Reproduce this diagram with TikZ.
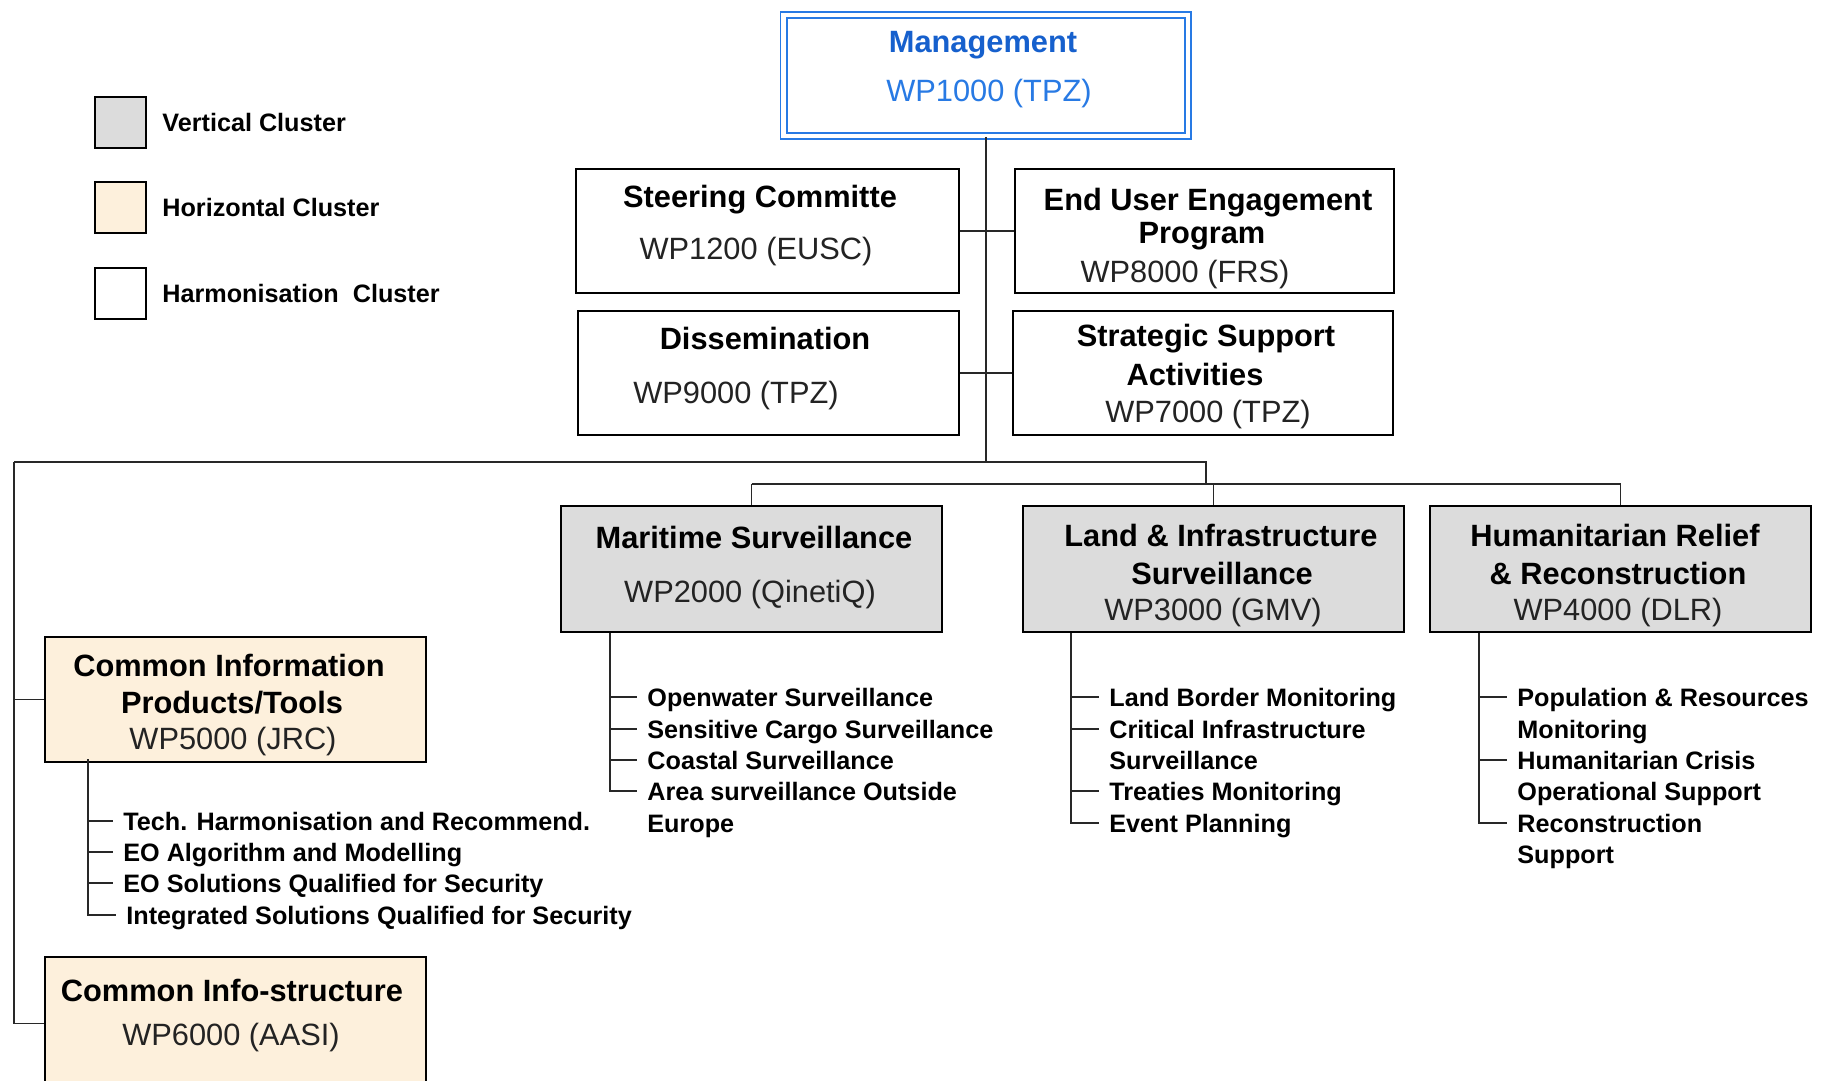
\documentclass[tikz,border=0pt]{standalone}
\usepackage{fontspec}
\setmainfont{Liberation Sans}
\usetikzlibrary{fit}
\definecolor{vgray}{RGB}{220,220,220}
\definecolor{hcream}{RGB}{253,240,220}
\definecolor{mblue}{RGB}{40,122,228}
\definecolor{mtext}{RGB}{22,96,205}
\definecolor{wptext}{RGB}{35,35,35}
\definecolor{conn}{RGB}{40,40,40}
\begin{document}
\begin{tikzpicture}[x=0.5pt,y=-0.5pt,
  box/.style={draw=black, line width=1pt, inner sep=0pt},
  vbox/.style={box, fill=vgray},
  hbox/.style={box, fill=hcream},
  wbox/.style={box, fill=white},
  ttl/.style={font=\bfseries\fontsize{15.4}{18}\selectfont, text height=11pt, text depth=0pt, inner sep=0pt},
  wp/.style={font=\fontsize{15.4}{18}\selectfont, text=wptext, text height=11pt, text depth=0pt, inner sep=0pt},
  item/.style={font=\bfseries\fontsize{12.6}{15}\selectfont, anchor=west, text height=9pt, text depth=0pt, inner ysep=0pt, inner xsep=5pt},
  lnk/.style={draw=conn, line width=0.8pt}]
\useasboundingbox (0,0) rectangle (1825,1081);
\clip (0,0) rectangle (1825,1081);
\fill[white] (0,0) rectangle (1825,1081);

% legend
\node[vbox, fit={(95,97)(146,148)}] (lg1) {};
\node[hbox, fit={(95,182)(146,233)}] (lg2) {};
\node[wbox, fit={(95,268)(146,319)}] (lg3) {};
\node[item] (lg1t) at ([xshift=2.5pt]lg1.east) {Vertical Cluster};
\node[item] (lg2t) at ([xshift=2.5pt]lg2.east) {Horizontal Cluster};
\node[item] (lg3t) at ([xshift=2.5pt]lg3.east) {Harmonisation~ Cluster};

% management
\node[draw=mblue, double=white, double distance=2.2pt, line width=0.9pt, inner sep=0pt, fit={(783.5,15)(1188,136)}] (mgmt) {};
\node[ttl, text=mtext] (mgmtT) at (983,42) {Management};
\node[wp, text=mblue] (mgmtW) at (989,91) {WP1000 (TPZ)};

% harmonisation boxes
\node[wbox, fit={(576,169)(959,293)}] (steer) {};
\node[ttl] (steerT) at (760,196) {Steering Committe};
\node[wp] (steerW) at (756,248) {WP1200 (EUSC)};

\node[wbox, fit={(1015,169)(1394,293)}] (eue) {};
\node[ttl] (eueT1) at (1208,199) {End User Engagement};
\node[ttl] (eueT2) at (1202,232) {Program};
\node[wp] (eueW) at (1185,271) {WP8000 (FRS)};

\node[wbox, fit={(578,311)(959,435)}] (diss) {};
\node[ttl] (dissT) at (765,338) {Dissemination};
\node[wp] (dissW) at (736,392) {WP9000 (TPZ)};

\node[wbox, fit={(1013,311)(1393,435)}] (ssa) {};
\node[ttl] (ssaT1) at (1206,335) {Strategic Support};
\node[ttl] (ssaT2) at (1195,374) {Activities};
\node[wp] (ssaW) at (1208,411) {WP7000 (TPZ)};

% vertical clusters
\node[vbox, fit={(561,506)(942,632)}] (mar) {};
\node[ttl] (marT) at (754,537) {Maritime Surveillance};
\node[wp] (marW) at (750,591) {WP2000 (QinetiQ)};

\node[vbox, fit={(1023,506)(1404,632)}] (land) {};
\node[ttl] (landT1) at (1221,535) {Land \& Infrastructure};
\node[ttl] (landT2) at (1222,573) {Surveillance};
\node[wp] (landW) at (1213,609) {WP3000 (GMV)};

\node[vbox, fit={(1430,506)(1811,632)}] (hum) {};
\node[ttl] (humT1) at (1615,535) {Humanitarian Relief};
\node[ttl] (humT2) at (1618,573) {\& Reconstruction};
\node[wp] (humW) at (1618,609) {WP4000 (DLR)};

% horizontal clusters
\node[hbox, fit={(45,637)(426,762)}] (cip) {};
\node[ttl] (cipT1) at (229,665) {Common Information};
\node[ttl] (cipT2) at (232,702) {Products/Tools};
\node[wp] (cipW) at (233,738) {WP5000 (JRC)};

\node[hbox, fit={(45,957)(426,1090)}] (ci) {};
\node[ttl] (ciT) at (232,990) {Common Info-structure};
\node[wp] (ciW) at (231,1034) {WP6000 (AASI)};

% main connectors
\coordinate (b1l) at (14,462);
\coordinate (b1r) at (1206,462);
\coordinate (b2c) at (1206,484);
\coordinate (b2l) at (mar.north |- b2c);
\coordinate (b2r) at (hum.north |- b2c);
\draw[lnk] (mgmt.south) -- (mgmt.south |- b1l);
\draw[lnk] (steer.east) -- (eue.west);
\draw[lnk] (diss.east) -- (ssa.west);
\draw[lnk] (b1l) -- (b1r) -- (b2c);
\draw[lnk] (b2l) -- (b2r);
\draw[lnk] (b2l) -- (mar.north);
\draw[lnk] (land.north |- b2c) -- (land.north);
\draw[lnk] (b2r) -- (hum.north);
\draw[lnk] (b1l) |- (ci.west);
\draw[lnk] (b1l |- cip.west) -- (cip.west);

% CIP list
\coordinate (cv) at (88,0);
\node[item] (c1) at (113,821) {Tech. Harmonisation and Recommend.};
\node[item] (c2) at (113,852) {EO Algorithm and Modelling};
\node[item] (c3) at (113,883) {EO Solutions Qualified for Security};
\node[item] (c4) at (116,915) {Integrated Solutions Qualified for Security};
\draw[lnk] ([yshift=2pt]cip.south -| cv) |- (c4.west);
\foreach \n in {c1,c2,c3} \draw[lnk] (\n.west -| cv) -- (\n.west);

% Maritime list
\coordinate (mv) at (610,0);
\node[item] (m1) at (637,697) {Openwater Surveillance};
\node[item] (m2) at (637,729) {Sensitive Cargo Surveillance};
\node[item] (m3) at (637,760) {Coastal Surveillance};
\node[item] (m4) at (637,791) {Area surveillance Outside};
\node[item] (m4b) at (637,823) {Europe};
\draw[lnk] (mar.south -| mv) |- (m4.west);
\foreach \n in {m1,m2,m3} \draw[lnk] (\n.west -| mv) -- (\n.west);

% Land list
\coordinate (lv) at (1071,0);
\node[item] (l1) at (1099,697) {Land Border Monitoring};
\node[item] (l2) at (1099,729) {Critical Infrastructure};
\node[item] (l2b) at (1099,760) {Surveillance};
\node[item] (l3) at (1099,791) {Treaties Monitoring};
\node[item] (l4) at (1099,823) {Event Planning};
\draw[lnk] (land.south -| lv) |- (l4.west);
\foreach \n in {l1,l2,l3} \draw[lnk] (\n.west -| lv) -- (\n.west);

% Humanitarian list
\coordinate (hv) at (1479,0);
\node[item] (h1) at (1507,697) {Population \& Resources};
\node[item] (h1b) at (1507,729) {Monitoring};
\node[item] (h2) at (1507,760) {Humanitarian Crisis};
\node[item] (h2b) at (1507,791) {Operational Support};
\node[item] (h3) at (1507,823) {Reconstruction};
\node[item] (h3b) at (1507,854) {Support};
\draw[lnk] (hum.south -| hv) |- (h3.west);
\foreach \n in {h1,h2} \draw[lnk] (\n.west -| hv) -- (\n.west);
\end{tikzpicture}
\end{document}
